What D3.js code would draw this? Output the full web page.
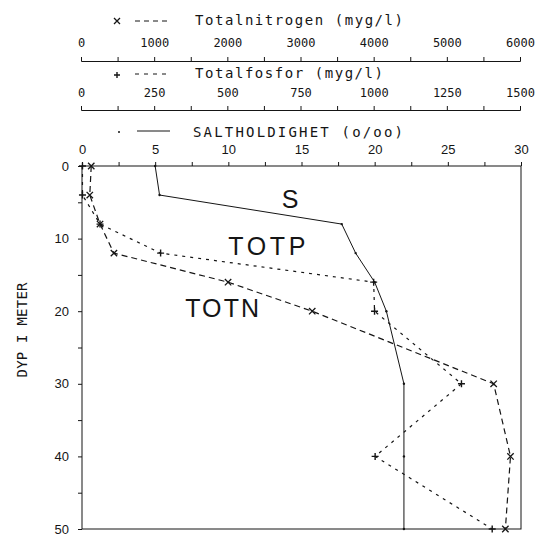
<!DOCTYPE html>
<html><head><meta charset="utf-8">
<script src="https://cdn.jsdelivr.net/npm/d3@7"></script>
<style>
body{margin:0;background:#fff;}
svg{display:block;}
</style></head>
<body>
<svg id="c" width="550" height="539"></svg>
<script>
// ---- data ----
const depths = [0, 4, 8, 12, 16, 20, 30, 40, 50];
const nitrogen = [140, 120, 260, 450, 2010, 3160, 5640, 5870, 5800];   // myg/l
const phosphor = [5, 5, 65, 272, 1000, 1003, 1300, 1005, 1405];      // myg/l
const salinity = [5.0, 5.3, 17.75, 18.7, 20.0, 20.8, 22.0, 22.0, 22.0]; // o/oo
const nTicks = [0, 1000, 2000, 3000, 4000, 5000, 6000];
const pTicks = [0, 250, 500, 750, 1000, 1250, 1500];
const sTicks = [0, 5, 10, 15, 20, 25, 30];
const dTicks = [0, 10, 20, 30, 40, 50];
const legendN = "Totalnitrogen (myg/l)";
const legendP = "Totalfosfor (myg/l)";
const legendS = "SALTHOLDIGHET (o/oo)";
const yTitle = "DYP I METER";
const seriesLabels = ["S", "TOTP", "TOTN"];

// ---- drawing ----
const svg = d3.select("#c");
const ink = "#151515";
const mono = "'DejaVu Sans Mono', 'Liberation Mono', monospace";
const sans = "'Liberation Sans', Arial, sans-serif";

const xS = d3.scaleLinear([0, 30], [82, 521]);
const xN = d3.scaleLinear([0, 6000], [81, 520]);
const xP = d3.scaleLinear([0, 1500], [81, 520]);
const y = d3.scaleLinear([0, 50], [166, 529]);

function styleAxis(g, font, size) {
  g.selectAll("path.domain").attr("stroke", ink).attr("stroke-width", 1);
  g.selectAll(".tick line").attr("stroke", ink).attr("stroke-width", 1);
  g.selectAll("text").attr("fill", ink).style("font-family", font).style("font-size", size + "px");
}

// Nitrogen axis
const gN = svg.append("g").attr("transform", "translate(0,61)")
  .call(d3.axisTop(xN).tickValues(d3.range(0, 6001, 500))
    .tickFormat(d => nTicks.includes(d) ? d : "").tickSize(4).tickSizeOuter(4).tickPadding(10));
styleAxis(gN, mono, 12);

// Phosphor axis
const gP = svg.append("g").attr("transform", "translate(0,110)")
  .call(d3.axisTop(xP).tickValues(d3.range(0, 1501, 125))
    .tickFormat(d => pTicks.includes(d) ? d : "").tickSize(4).tickSizeOuter(4).tickPadding(9));
styleAxis(gP, mono, 12);

// Salinity axis on top of frame
const gS = svg.append("g").attr("transform", "translate(0," + y(0) + ")")
  .call(d3.axisTop(xS).tickValues(d3.range(0, 30.1, 2.5))
    .tickFormat(d => sTicks.includes(d) ? d : "").tickSize(4).tickSizeOuter(0).tickPadding(8));
styleAxis(gS, sans, 13);
gS.select("path.domain").remove();

// Depth axis
const gD = svg.append("g").attr("transform", "translate(" + xS(0) + ",0)")
  .call(d3.axisLeft(y).tickValues(d3.range(0, 51, 5))
    .tickFormat(d => dTicks.includes(d) ? d : "").tickSize(4).tickSizeOuter(0).tickPadding(9));
styleAxis(gD, sans, 13);
gD.select("path.domain").remove();

// Frame
svg.append("rect").attr("x", xS(0)).attr("y", y(0))
  .attr("width", xS(30) - xS(0)).attr("height", y(50) - y(0))
  .attr("fill", "none").attr("stroke", ink).attr("stroke-width", 1);

// Legends
function legendText(txt, x, yb, w) {
  svg.append("text").attr("x", x).attr("y", yb).text(txt)
    .attr("textLength", w).attr("lengthAdjust", "spacing")
    .style("font-family", mono).style("font-size", "14px").attr("fill", ink);
}
function cross(g, cx, cy, r) {
  g.append("path").attr("d", `M${cx - r},${cy - r}L${cx + r},${cy + r}M${cx - r},${cy + r}L${cx + r},${cy - r}`)
    .attr("stroke", ink).attr("stroke-width", 1.3).attr("fill", "none");
}
function plus(g, cx, cy, r) {
  g.append("path").attr("d", `M${cx - r},${cy}L${cx + r},${cy}M${cx},${cy - r}L${cx},${cy + r}`)
    .attr("stroke", ink).attr("stroke-width", 1.4).attr("fill", "none");
}
const lg = svg.append("g");
cross(lg, 117, 21, 3);
lg.append("line").attr("x1", 135).attr("x2", 170).attr("y1", 21).attr("y2", 21)
  .attr("stroke", ink).attr("stroke-dasharray", "5,4");
legendText(legendN, 195, 25, 208);
plus(lg, 117, 75, 3);
lg.append("line").attr("x1", 135).attr("x2", 168).attr("y1", 74).attr("y2", 74)
  .attr("stroke", ink).attr("stroke-dasharray", "4,5");
legendText(legendP, 195, 78, 188);
lg.append("circle").attr("cx", 119).attr("cy", 132).attr("r", 1).attr("fill", ink);
lg.append("line").attr("x1", 137).attr("x2", 170).attr("y1", 131).attr("y2", 131)
  .attr("stroke", ink).attr("stroke-width", 1);
legendText(legendS, 193, 137, 210);

// Y title
svg.append("text").attr("transform", "translate(27,330) rotate(-90)")
  .attr("text-anchor", "middle").text(yTitle)
  .attr("textLength", 95).attr("lengthAdjust", "spacing")
  .style("font-family", mono).style("font-size", "14px").attr("fill", ink);

// Series
const rows = depths.map((d, i) => ({ d, n: nitrogen[i], p: phosphor[i], s: salinity[i] }));
const plot = svg.append("g");
plot.append("path").datum(rows)
  .attr("d", d3.line().x(r => xS(r.s)).y(r => y(r.d)))
  .attr("fill", "none").attr("stroke", ink).attr("stroke-width", 1);
plot.append("path").datum(rows)
  .attr("d", d3.line().x(r => xP(r.p)).y(r => y(r.d)))
  .attr("fill", "none").attr("stroke", ink).attr("stroke-width", 1.2).attr("stroke-dasharray", "3,5");
plot.append("path").datum(rows)
  .attr("d", d3.line().x(r => xN(r.n)).y(r => y(r.d)))
  .attr("fill", "none").attr("stroke", ink).attr("stroke-width", 1.2).attr("stroke-dasharray", "6,4");
rows.forEach(r => {
  plot.append("circle").attr("cx", xS(r.s)).attr("cy", y(r.d)).attr("r", 1.2).attr("fill", ink);
  plus(plot, xP(r.p), y(r.d), 3.5);
  cross(plot, xN(r.n), y(r.d), 3.2);
});

// Series labels
const labelPos = [
  { t: seriesLabels[0], s: 13.65, d: 5.8, w: 17 },
  { t: seriesLabels[1], s: 10.0, d: 12.3, w: 77 },
  { t: seriesLabels[2], s: 7.05, d: 20.8, w: 74 }
];
labelPos.forEach(l => {
  svg.append("text").attr("x", xS(l.s)).attr("y", y(l.d)).text(l.t)
    .attr("textLength", l.w).attr("lengthAdjust", "spacing")
    .style("font-family", sans).style("font-size", "25px").attr("fill", ink);
});
</script>
</body></html>
